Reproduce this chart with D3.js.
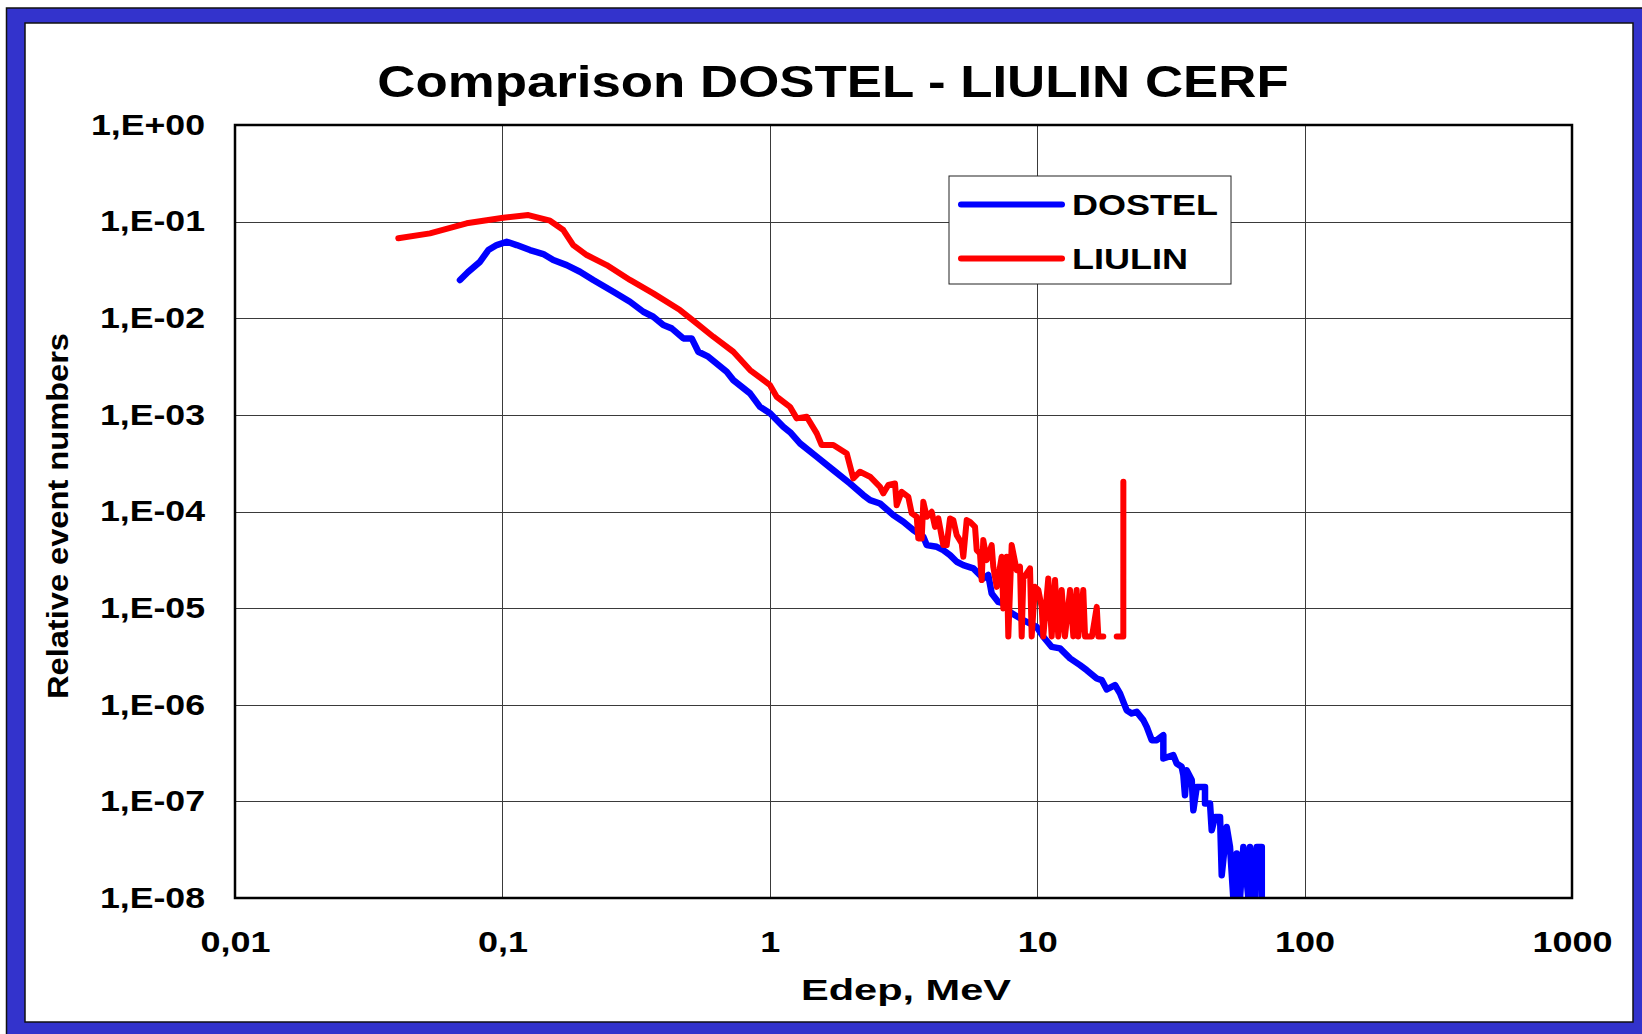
<!DOCTYPE html>
<meta charset="utf-8">
<style>
body { margin: 0; background: #fff; }
svg { display: block; font-family: "Liberation Sans", Arial, sans-serif; font-weight: bold; }
.grid line { stroke: #3a3a3a; stroke-width: 1; shape-rendering: crispEdges; }
.grid path { display: none; }
.axis path, .axis line { display: none; }
.axis text { font-family: "Liberation Sans", Arial, sans-serif; font-weight: bold; font-size: 29px; fill: #000; }
.series { fill: none; stroke-linejoin: round; stroke-linecap: round; }
</style>
<body>
<div id="chart"></div>
<script src="https://cdn.jsdelivr.net/npm/d3@7"></script>
<script>
// energy deposit (MeV) and relative event numbers
var dostelE = [0.0694,0.0744,0.0825,0.0886,0.0952,0.1038,0.1131,0.1268,0.1422,0.155,0.174,0.195,0.2187,0.26,0.300,0.3365,0.3666,0.3997,0.4296,0.4749,0.5104,0.5403,0.5888,0.69,0.7304,0.8433,0.919,1.002,1.123,1.2,1.297,1.498,1.728,1.995,2.237,2.37,2.583,2.897,3.157,3.44,3.751,3.862,4.21,4.455,4.72,5.0,5.293,5.77,6.024,6.286,6.563,6.757,7.153,7.468,7.91,8.872,9.957,10.54,11.33,12.17,13.27,14.46,15.32,16.7,17.43,18.2,19.54,20.4,21.6,22.56,23.56,24.94,25.68,26.81,27.99,29.63,29.63,32.28,33.24,34.7,35.2,35.7,36.22,37.84,38.37,39.5,42.42,42.42,44.29,44.94,46.24,48.28,48.99,51.14,52.6,54.13,55.74,57.35,59.02,61.62,62.5,65.25,66.22,69.17,69.17];
var dostelV = [0.0249,0.0301,0.0385,0.0508,0.0572,0.0619,0.0572,0.0508,0.0462,0.04,0.0355,0.0303,0.0249,0.0188,0.01482,0.01168,0.01036,0.0085,0.00786,0.00619,0.00619,0.0045,0.004,0.00279,0.00229,0.00167,0.00121,0.00104,0.000753,0.000648,0.000507,0.000368,0.000268,0.000195,0.000148,0.000131,0.000121,9.18e-5,7.82e-5,6.42e-5,5.47e-5,4.49e-5,4.31e-5,3.99e-5,3.54e-5,3.02e-5,2.79e-5,2.58e-5,2.29e-5,2.03e-5,2.2e-5,1.42e-5,1.16e-5,1.12e-5,9.09e-6,7.51e-6,6.4e-6,5.05e-6,3.97e-6,3.83e-6,3.02e-6,2.57e-6,2.28e-6,1.87e-6,1.8e-6,1.44e-6,1.6e-6,1.31e-6,8.79e-7,8.13e-7,8.44e-7,6.93e-7,5.9e-7,4.3e-7,4.3e-7,4.84e-7,2.78e-7,3.01e-7,2.47e-7,2.28e-7,1.87e-7,1.16e-7,2.1e-7,1.66e-7,8.1e-8,1.41e-7,1.41e-7,9.51e-8,9.51e-8,5.03e-8,6.91e-8,6.91e-8,1.72e-8,5.44e-8,3.38e-8,1e-8,2.89e-8,1e-8,3.38e-8,1e-8,3.38e-8,1e-8,3.38e-8,3.38e-8,1e-8];

var liulinE = [0.0408,0.0536,0.0735,0.1008,0.125,0.1507,0.169,0.184,0.2067,0.2455,0.300,0.3666,0.4615,0.5329,0.6147,0.7304,0.8433,1.002,1.061,1.19,1.261,1.374,1.498,1.563,1.728,1.94,2.053,2.174,2.37,2.583,2.657,2.775,2.939,2.982,3.113,3.296,3.394,3.543,3.592,3.699,3.751,3.862,4.032,4.149,4.268,4.455,4.587,4.72,4.857,5.0,5.22,5.293,5.45,5.608,5.854,5.94,6.11,6.2,6.286,6.472,6.757,6.851,7.055,7.365,7.468,7.69,7.797,8.028,8.38,8.624,8.75,8.872,9.4,9.537,9.81,10.1,10.39,10.54,11.0,11.33,11.66,11.99,12.35,12.7,13.27,13.65,14.05,14.25,14.87,15.1,16.03,16.7,16.93,17.67,18.7,19.83,20.99,21.0];
var liulinV = [0.0672,0.0756,0.096,0.1097,0.117,0.1022,0.0818,0.0572,0.0451,0.0355,0.0249,0.0181,0.01216,0.00886,0.00644,0.0045,0.00291,0.00203,0.00154,0.00121,0.00092,0.000955,0.000643,0.000487,0.000487,0.000399,0.00022,0.000258,0.000229,0.00018,0.000154,0.000188,0.000195,0.000116,0.00016,0.000142,9.56e-5,8.81e-5,5.27e-5,5.27e-5,1.26e-4,8.81e-5,9.93e-5,6.94e-5,8.48e-5,4.49e-5,4.49e-5,8.48e-5,8.15e-5,5.7e-5,4.68e-5,3.4e-5,8.15e-5,7.82e-5,6.94e-5,3.99e-5,3.68e-5,1.95e-5,5.06e-5,3.14e-5,4.49e-5,2.68e-5,1.66e-5,3.4e-5,9.93e-6,3.4e-5,5.1e-6,4.49e-5,2.47e-5,2.68e-5,5.1e-6,2.03e-5,2.58e-5,5.1e-6,1.66e-5,1.54e-5,1.03e-5,5.1e-6,2.03e-5,5.1e-6,1.95e-5,5.1e-6,1.54e-5,5.1e-6,1.54e-5,5.1e-6,1.54e-5,5.1e-6,1.54e-5,5.1e-6,5.1e-6,1.03e-5,5.1e-6,5.1e-6,null,5.1e-6,5.1e-6,2.03e-4];

var seriesNames = ["DOSTEL", "LIULIN"];
var seriesColors = ["#0000ff", "#ff0000"];

var xTickVals = [0.01, 0.1, 1, 10, 100, 1000];
var xTickLabels = ["0,01", "0,1", "1", "10", "100", "1000"];
var yTickVals = [1, 1e-1, 1e-2, 1e-3, 1e-4, 1e-5, 1e-6, 1e-7, 1e-8];
var yTickLabels = ["1,E+00", "1,E-01", "1,E-02", "1,E-03", "1,E-04", "1,E-05", "1,E-06", "1,E-07", "1,E-08"];

var W = 1642, H = 1034;
var plot = { left: 235, top: 125, right: 1572, bottom: 898 };

var svg = d3.select("#chart").append("svg")
    .attr("width", W)
    .attr("height", H);

// text in the original is drawn wide, so stretch it horizontally
function stretch(sel, k) {
    sel.each(function() {
        var w = this.getComputedTextLength();
        d3.select(this).attr("textLength", w * k).attr("lengthAdjust", "spacingAndGlyphs");
    });
}

// blue frame
svg.append("rect").attr("width", W).attr("height", H).attr("fill", "#fff");
svg.append("rect")
    .attr("x", 6.5).attr("y", 8).attr("width", W).attr("height", H)
    .attr("fill", "#3333cc").attr("stroke", "#111").attr("stroke-width", 1.5);
svg.append("rect")
    .attr("x", 25).attr("y", 23).attr("width", 1608).attr("height", 999)
    .attr("fill", "#fff").attr("stroke", "#111").attr("stroke-width", 1.5);

var x = d3.scaleLog().domain([0.01, 1000]).range([plot.left, plot.right]);
var y = d3.scaleLog().domain([1e-8, 1]).range([plot.bottom, plot.top]);

// grid
svg.append("g")
    .attr("class", "grid")
    .attr("transform", "translate(0," + plot.bottom + ")")
    .call(d3.axisBottom(x).tickValues(xTickVals).tickSize(-(plot.bottom - plot.top)).tickFormat(""));
svg.append("g")
    .attr("class", "grid")
    .attr("transform", "translate(" + plot.left + ",0)")
    .call(d3.axisLeft(y).tickValues(yTickVals).tickSize(-(plot.right - plot.left)).tickFormat(""));

// axes labels
var xAxis = svg.append("g")
    .attr("class", "axis")
    .attr("transform", "translate(0," + plot.bottom + ")")
    .call(d3.axisBottom(x).tickValues(xTickVals).tickSize(0).tickPadding(33)
        .tickFormat(function(d, i) { return xTickLabels[i]; }));
stretch(xAxis.selectAll("text"), 1.24);

var yAxis = svg.append("g")
    .attr("class", "axis")
    .attr("transform", "translate(" + plot.left + ",0)")
    .call(d3.axisLeft(y).tickValues(yTickVals).tickSize(0).tickPadding(30)
        .tickFormat(function(d, i) { return yTickLabels[i]; }));
stretch(yAxis.selectAll("text"), 1.23);

// data
svg.append("clipPath").attr("id", "clip")
    .append("rect")
    .attr("x", plot.left).attr("y", plot.top)
    .attr("width", plot.right - plot.left).attr("height", plot.bottom - plot.top);

var line = d3.line()
    .defined(function(d) { return d[1] != null; })
    .x(function(d) { return x(d[0]); })
    .y(function(d) { return y(d[1]); });

var series = [d3.zip(dostelE, dostelV), d3.zip(liulinE, liulinV)];
var widths = [6.5, 6];

svg.append("g").attr("clip-path", "url(#clip)")
    .selectAll("path")
    .data(series)
    .enter().append("path")
    .attr("class", "series")
    .attr("stroke", function(d, i) { return seriesColors[i]; })
    .attr("stroke-width", function(d, i) { return widths[i]; })
    .attr("d", line);

// plot frame
svg.append("rect")
    .attr("x", plot.left).attr("y", plot.top)
    .attr("width", plot.right - plot.left).attr("height", plot.bottom - plot.top)
    .attr("fill", "none").attr("stroke", "#000").attr("stroke-width", 2.5);

// title
var title = svg.append("text")
    .attr("x", 833).attr("y", 97)
    .attr("text-anchor", "middle")
    .style("font-size", "44px")
    .text("Comparison DOSTEL - LIULIN CERF");
stretch(title, 1.2);

// axis titles
svg.append("text")
    .attr("x", 906).attr("y", 1000)
    .attr("text-anchor", "middle")
    .attr("textLength", 210).attr("lengthAdjust", "spacingAndGlyphs")
    .style("font-size", "30px")
    .text("Edep, MeV");

svg.append("text")
    .attr("transform", "translate(68,516) rotate(-90)")
    .attr("text-anchor", "middle")
    .attr("textLength", 366).attr("lengthAdjust", "spacingAndGlyphs")
    .style("font-size", "30px")
    .text("Relative event numbers");

// legend
var legend = svg.append("g").attr("transform", "translate(949,176)");
legend.append("rect")
    .attr("width", 282).attr("height", 108)
    .attr("fill", "#fff").attr("stroke", "#222").attr("stroke-width", 1);

var item = legend.selectAll(".item")
    .data(seriesNames)
    .enter().append("g")
    .attr("class", "item")
    .attr("transform", function(d, i) { return "translate(0," + (28.5 + i * 54) + ")"; });

item.append("line")
    .attr("x1", 12).attr("x2", 113)
    .attr("stroke", function(d, i) { return seriesColors[i]; })
    .attr("stroke-width", 6)
    .attr("stroke-linecap", "round");

var itemText = item.append("text")
    .attr("x", 123).attr("y", 10)
    .style("font-size", "30px")
    .text(function(d) { return d; });
stretch(itemText, 1.2);
</script>
</body>
